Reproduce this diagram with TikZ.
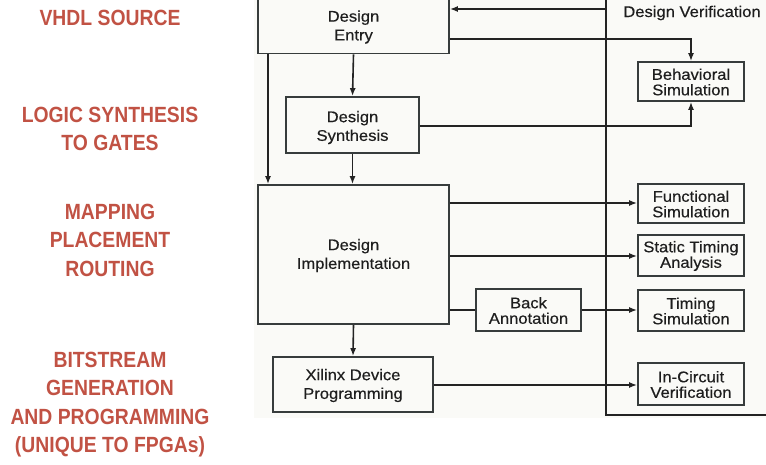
\documentclass[tikz,border=0pt]{standalone}
\usepackage{fontspec}
\setmainfont{Liberation Sans}
\newfontfamily\boxfont[FakeStretch=1.07,FakeBold=0.4]{Liberation Sans}
\usetikzlibrary{arrows.meta}
\definecolor{redtxt}{RGB}{193,82,68}
\definecolor{linec}{RGB}{35,35,35}
\definecolor{boxc}{RGB}{55,60,60}
\definecolor{bgc}{RGB}{250,250,247}
\definecolor{txtc}{RGB}{30,30,30}
\newcommand{\sqz}[1]{\scalebox{0.88}[1]{#1}}
\begin{document}
\begin{tikzpicture}[x=1pt,y=-1pt,
  box/.style={draw=boxc,line width=1.7pt,fill=bgc,inner sep=0pt},
  bigt/.style={text=txtc,align=center,inner sep=0pt,font=\boxfont\fontsize{15.5}{18.7}\selectfont},
  smlt/.style={text=txtc,align=center,inner sep=0pt,font=\boxfont\fontsize{15.5}{15.5}\selectfont},
  conn/.style={draw=linec,line width=1.6pt},
  arr/.style={conn,-{Latex[length=8pt,width=6pt]}},
  lbl/.style={text=redtxt,align=center,font=\fontsize{22}{28.5}\selectfont\bfseries}]
\useasboundingbox (0,0) rectangle (766,464);
\fill[bgc] (254,-1) rectangle (766,418);
% left labels
\node[lbl] (l1) at (110,18) {\sqz{VHDL SOURCE}};
\node[lbl] (l2) at (110,129) {\sqz{LOGIC SYNTHESIS}\\\sqz{TO GATES}};
\node[lbl] (l3) at (110,240) {\sqz{MAPPING}\\\sqz{PLACEMENT}\\\sqz{ROUTING}};
\node[lbl] (l4) at (110,404.5) {\sqz{BITSTREAM}\\\sqz{GENERATION}\\\sqz{AND PROGRAMMING}\\\sqz{(UNIQUE TO FPGAs)}};
% boxes
\node[box,minimum width=191pt,minimum height=55pt] (entry) at (353.5,26) {};
\node[box,minimum width=133pt,minimum height=56pt] (synth) at (352.5,125) {};
\node[box,minimum width=191pt,minimum height=139pt] (impl) at (353.5,254.5) {};
\node[box,minimum width=160pt,minimum height=55pt] (xil) at (353,384.5) {};
\node[box,minimum width=105pt,minimum height=42pt] (back) at (528.5,310) {};
\node[box,minimum width=106pt,minimum height=39pt] (beh) at (691,81.5) {};
\node[box,minimum width=106pt,minimum height=39pt] (func) at (691,203.5) {};
\node[box,minimum width=106pt,minimum height=41pt] (sta) at (691,255.5) {};
\node[box,minimum width=106pt,minimum height=41pt] (tsim) at (691,310.5) {};
\node[box,minimum width=106pt,minimum height=42pt] (icv) at (691,384) {};
% box texts
\node[bigt] (entryT) at ([yshift=-1pt]entry.center) {Design\\Entry};
\node[bigt] (synthT) at ([yshift=-2.5pt]synth.center) {Design\\Synthesis};
\node[bigt] (implT) at ([yshift=-1pt]impl.center) {Design\\Implementation};
\node[bigt] (xilT) at ([yshift=-1pt]xil.center) {Xilinx Device\\Programming};
\node[smlt] (backT) at ([yshift=-0.5pt]back.center) {Back\\Annotation};
\node[smlt] (behT) at ([yshift=-0.5pt]beh.center) {Behavioral\\Simulation};
\node[smlt] (funcT) at ([yshift=-0.5pt]func.center) {Functional\\Simulation};
\node[smlt] (staT) at ([yshift=-0.5pt]sta.center) {Static Timing\\Analysis};
\node[smlt] (tsimT) at ([yshift=-0.5pt]tsim.center) {Timing\\Simulation};
\node[smlt] (icvT) at ([yshift=-0.5pt]icv.center) {In-Circuit\\Verification};
\node[text=txtc,inner sep=0pt,font=\boxfont\fontsize{15.5}{19}\selectfont] (dv) at (692,13) {Design Verification};
% verification frame line
\coordinate (vt) at (606,-2);
\coordinate (vb) at (606,415);
\coordinate (vr) at (768,415);
\coordinate (vin) at (606,9);
\draw[conn] (vt) -- (vb) -- (vr);
% connectors
\draw[arr] (vin) -- (entry.east |- vin);
\draw[arr] (entry.east |- 0,39) -| (beh.north);
\draw[arr] (entry.south) -- (synth.north);
\draw[arr] (synth.east |- 0,126) -| (beh.south);
\draw[arr] (entry.south -| 268,0) -- (impl.north -| 268,0);
\draw[arr] (synth.south) -- (impl.north -| synth.south);
\draw[arr] (impl.east |- 0,203) -- (func.west |- 0,203);
\draw[arr] (impl.east |- 0,256) -- (sta.west |- 0,256);
\draw[conn] (impl.east |- 0,310) -- (back.west |- 0,310);
\draw[arr] (back.east |- 0,310) -- (tsim.west |- 0,310);
\draw[arr] (impl.south) -- (xil.north);
\draw[arr] (xil.east |- 0,385) -- (icv.west |- 0,385);
\end{tikzpicture}
\end{document}
